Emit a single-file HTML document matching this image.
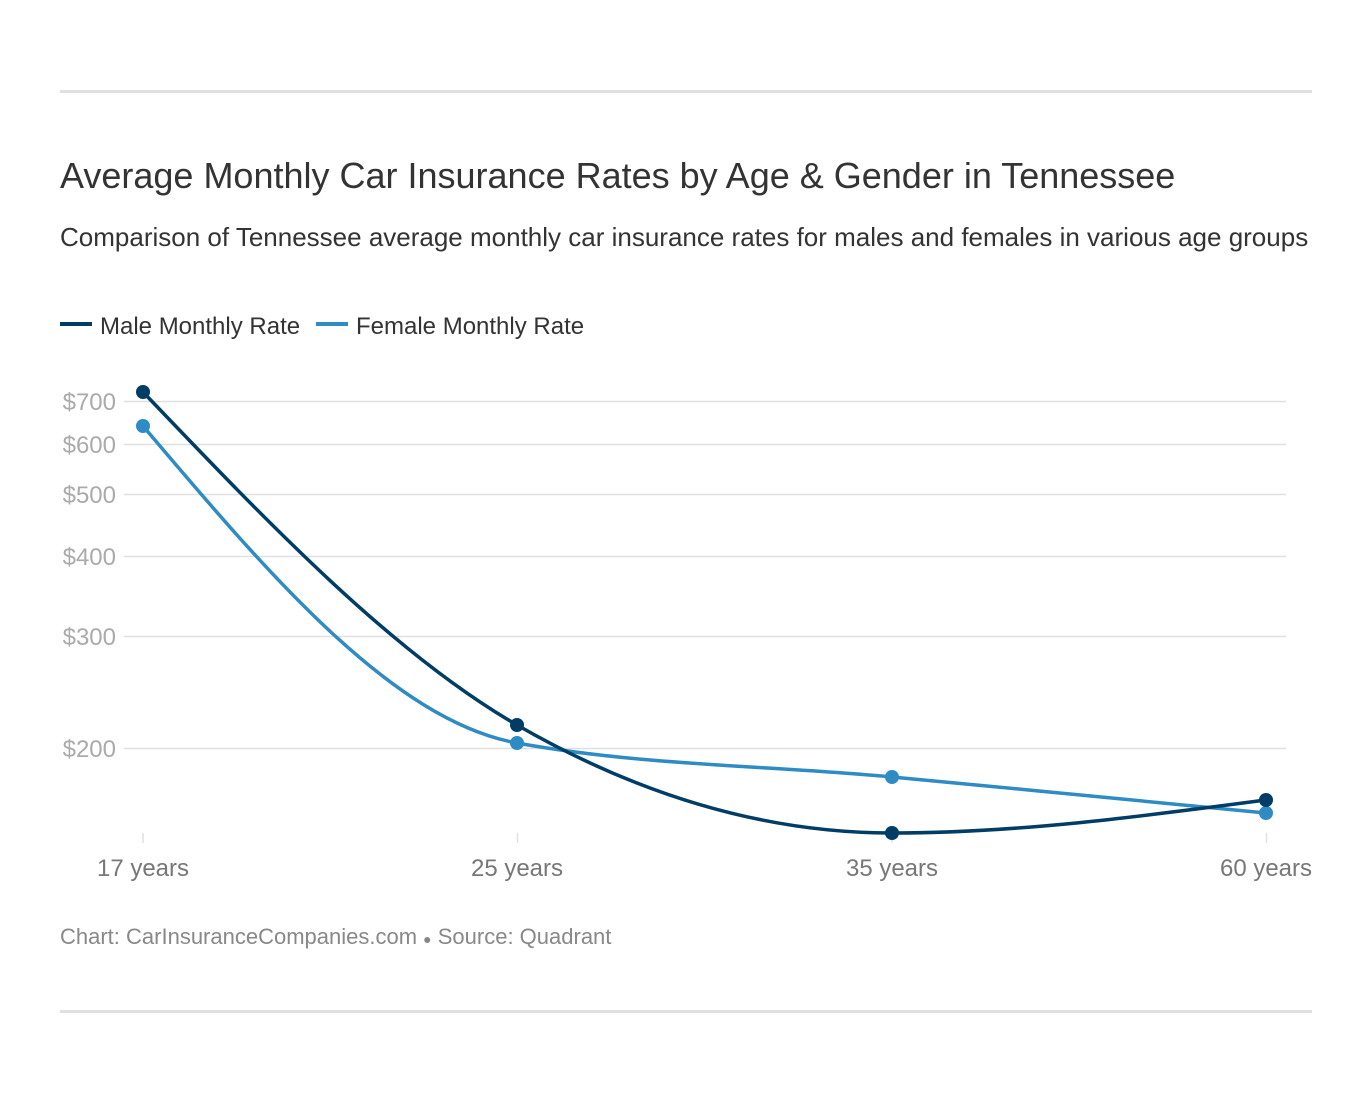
<!DOCTYPE html>
<html><head><meta charset="utf-8"><style>
html,body{margin:0;padding:0;background:#fff;}
body{width:1372px;height:1104px;position:relative;overflow:hidden;font-family:"Liberation Sans",sans-serif;}
</style></head><body>
<svg width="1372" height="1104" xmlns="http://www.w3.org/2000/svg" style="position:absolute;left:0;top:0;font-family:'Liberation Sans',sans-serif">
<rect x="60" y="90" width="1252" height="3" fill="#e0e0e0"/>
<rect x="60" y="1010" width="1252" height="3" fill="#e0e0e0"/>
<text x="60" y="188" font-size="36" fill="#333">Average Monthly Car Insurance Rates by Age &amp; Gender in Tennessee</text>
<text x="60" y="246" font-size="26" fill="#333">Comparison of Tennessee average monthly car insurance rates for males and females in various age groups</text>
<rect x="60" y="322" width="32" height="4" fill="#003d66"/>
<text x="100" y="334" font-size="24" fill="#333">Male Monthly Rate</text>
<rect x="316" y="322" width="32" height="4" fill="#2e8bc4"/>
<text x="356" y="334" font-size="24" fill="#333">Female Monthly Rate</text>
<g stroke="#e0e0e0" stroke-width="1.5">
<line x1="124" x2="1286" y1="401.5" y2="401.5"/>
<line x1="124" x2="1286" y1="444.5" y2="444.5"/>
<line x1="124" x2="1286" y1="494.5" y2="494.5"/>
<line x1="124" x2="1286" y1="556.5" y2="556.5"/>
<line x1="124" x2="1286" y1="636.5" y2="636.5"/>
<line x1="124" x2="1286" y1="748.5" y2="748.5"/>
<line x1="143" x2="143" y1="833" y2="843"/>
<line x1="517.5" x2="517.5" y1="833" y2="843"/>
<line x1="892" x2="892" y1="833" y2="843"/>
<line x1="1266.5" x2="1266.5" y1="833" y2="843"/>
</g>
<g font-size="24" fill="#aaa" text-anchor="end">
<text x="116" y="410">$700</text>
<text x="116" y="453">$600</text>
<text x="116" y="503">$500</text>
<text x="116" y="565">$400</text>
<text x="116" y="645">$300</text>
<text x="116" y="757">$200</text>
</g>
<g font-size="24" fill="#777" text-anchor="middle">
<text x="143" y="876">17 years</text>
<text x="517" y="876">25 years</text>
<text x="892" y="876">35 years</text>
<text x="1266" y="876">60 years</text>
</g>
<path d="M143,426 C267.7,573.3 392.3,720.3 517,743 C642,765.7 767,765.3 892,777 C1016.7,788.7 1141.3,800.9 1266,813" fill="none" stroke="#2e8bc4" stroke-width="3.5"/>
<path d="M143,392 C267.7,522.5 392.3,653.2 517,725 C642,797 767,833 892,833 C1016.7,833 1141.3,816.5 1266,800" fill="none" stroke="#003d66" stroke-width="3.5"/>
<g fill="#2e8bc4"><circle cx="143" cy="426" r="7"/><circle cx="517" cy="743" r="7"/><circle cx="892" cy="777" r="7"/><circle cx="1266" cy="813" r="7"/></g>
<g fill="#003d66"><circle cx="143" cy="392" r="7"/><circle cx="517" cy="725" r="7"/><circle cx="892" cy="833" r="7"/><circle cx="1266" cy="800" r="7"/></g>
<text x="60" y="944" font-size="22" fill="#888">Chart: CarInsuranceCompanies.com <tspan font-size="14">●</tspan> Source: Quadrant</text>
</svg>
</body></html>
